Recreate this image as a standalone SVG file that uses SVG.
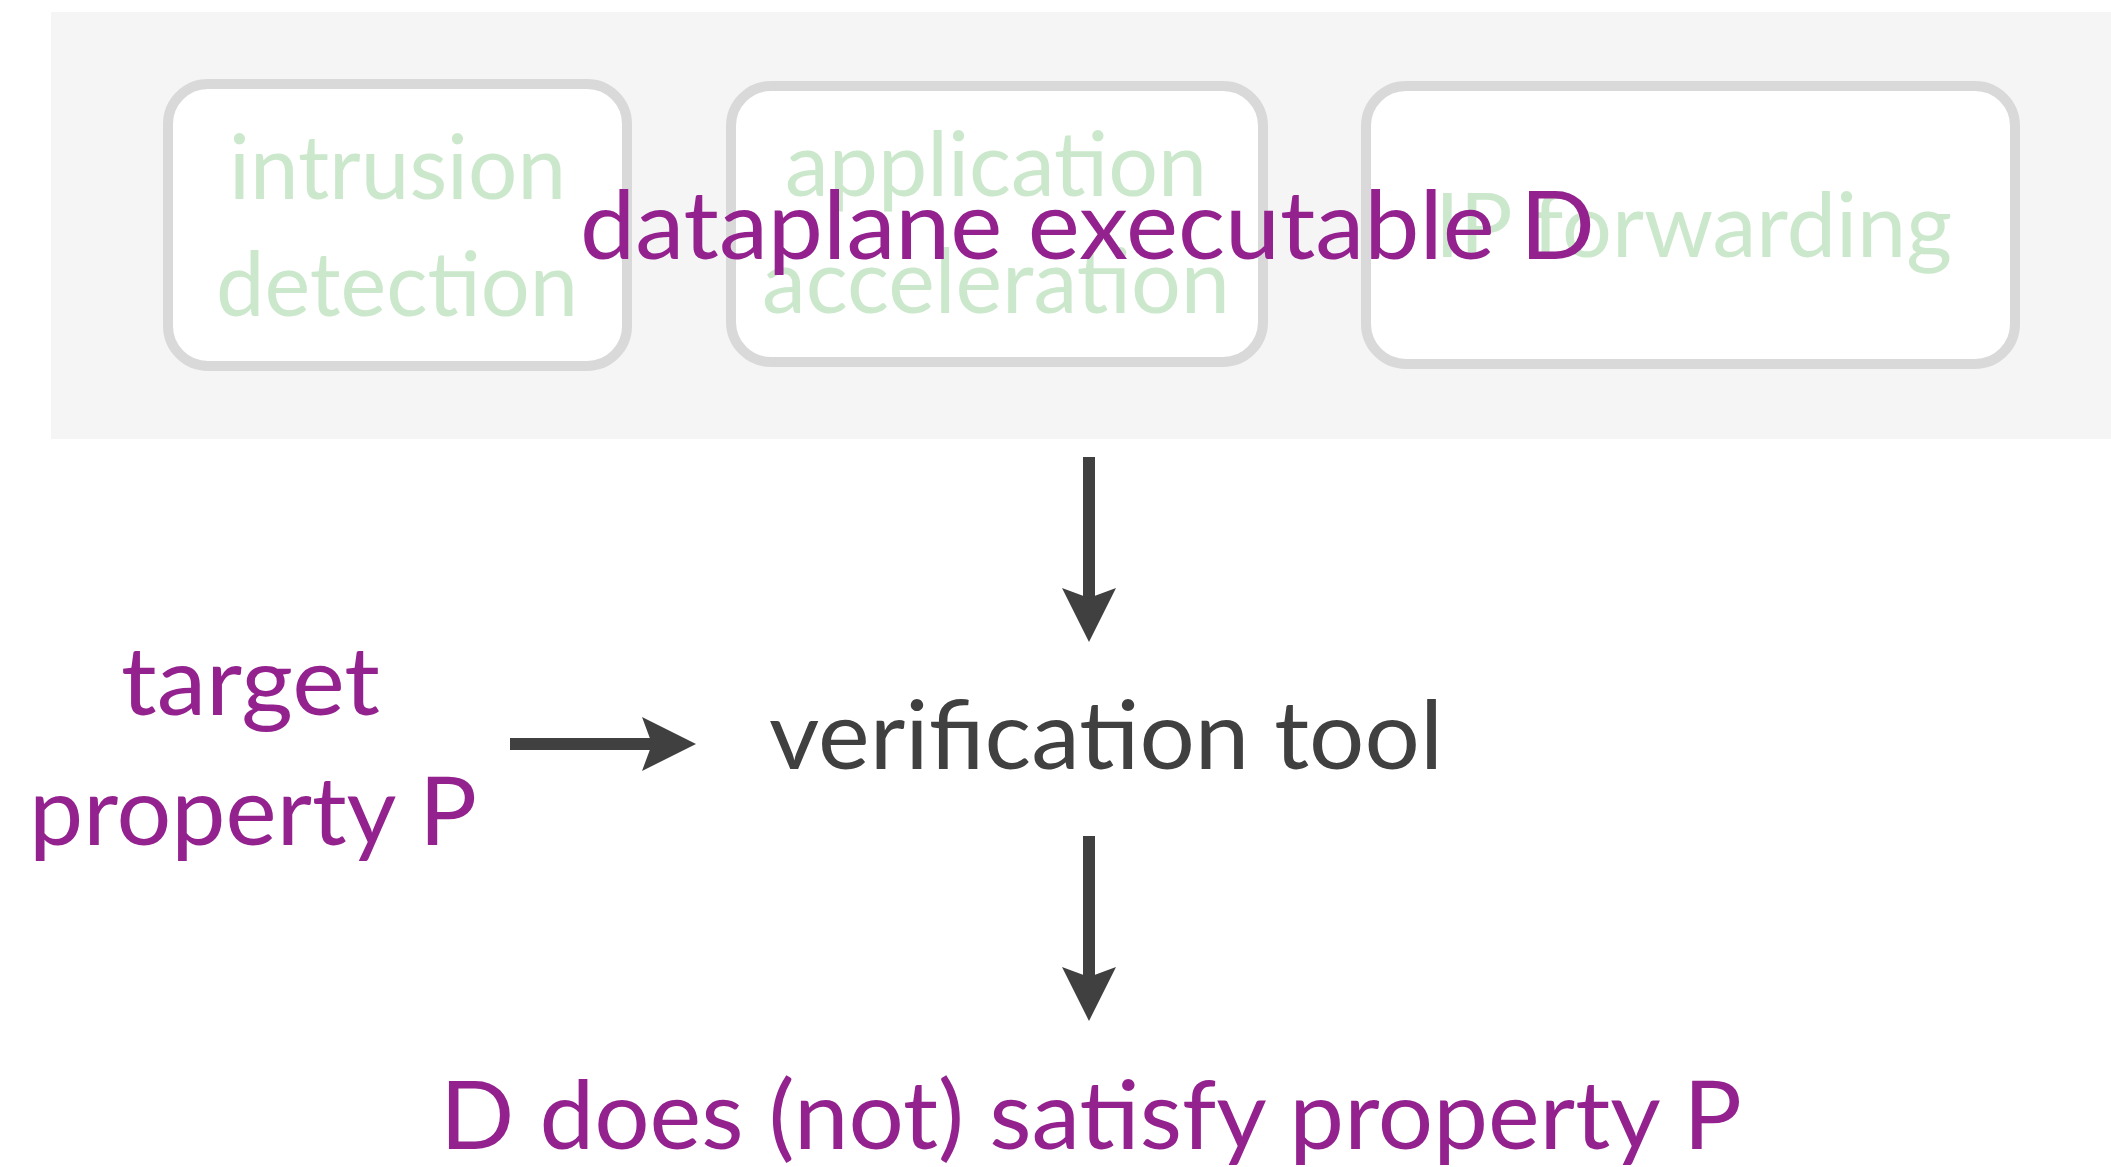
<svg xmlns="http://www.w3.org/2000/svg" width="2111" height="1167" viewBox="0 0 2111 1167">
  <style>
    .panel { fill: #f5f5f5; }
    .box { fill: #ffffff; stroke: #d9d9d9; stroke-width: 10; }
    .app { font-family: Lato, Carlito, "Liberation Sans", sans-serif; font-size: 90px; fill: #cce8cc; }
    .main { font-family: Lato, Carlito, "Liberation Sans", sans-serif; font-size: 95px; }
    .purple { fill: #93228f; }
    .dark { fill: #404040; }
    .link { stroke: #404040; stroke-width: 12; fill: none; marker-end: url(#ah); }
  </style>
  <defs>
    <marker id="ah" markerUnits="userSpaceOnUse" viewBox="-54 -27 54 54" refX="-40" refY="0" markerWidth="54" markerHeight="54" orient="auto">
      <path d="M0,0 L-54,-27 L-44,0 L-54,27 Z" fill="#404040"/>
    </marker>
  </defs>

  <rect class="panel" x="51" y="12" width="2060" height="427"/>

  <g id="intrusion-detection">
    <rect class="box" x="168" y="84" width="459" height="282" rx="40" ry="40"/>
    <text class="app" x="229" y="199" textLength="337" lengthAdjust="spacingAndGlyphs">intrusion</text>
    <text class="app" x="216" y="316" textLength="362" lengthAdjust="spacingAndGlyphs">detection</text>
  </g>

  <g id="application-acceleration">
    <rect class="box" x="731" y="86" width="532" height="276" rx="40" ry="40"/>
    <text class="app" x="785" y="196" textLength="422" lengthAdjust="spacingAndGlyphs">application</text>
    <text class="app" x="762" y="313" textLength="468" lengthAdjust="spacingAndGlyphs">acceleration</text>
  </g>

  <g id="ip-forwarding">
    <rect class="box" x="1366" y="86" width="649" height="278" rx="40" ry="40"/>
    <text class="app" x="1435" y="257" textLength="517" lengthAdjust="spacingAndGlyphs">IP forwarding</text>
  </g>

  <g id="dataplane-executable">
    <text class="main purple" x="580" y="259" textLength="1015" lengthAdjust="spacingAndGlyphs">dataplane executable D</text>
  </g>

  <g id="target-property">
    <text class="main purple" x="121" y="715" textLength="259" lengthAdjust="spacingAndGlyphs">target</text>
    <text class="main purple" x="29" y="845" textLength="448" lengthAdjust="spacingAndGlyphs">property P</text>
  </g>

  <g id="verification-tool">
    <text class="main dark" x="769" y="769" textLength="674" lengthAdjust="spacingAndGlyphs">verification tool</text>
  </g>

  <g id="result">
    <text class="main purple" x="440" y="1149" textLength="1302" lengthAdjust="spacingAndGlyphs">D does (not) satisfy property P</text>
  </g>

  <g id="connectors">
    <line class="link" x1="1089" y1="457" x2="1089" y2="602"/>
    <line class="link" x1="510" y1="744" x2="656" y2="744"/>
    <line class="link" x1="1089" y1="836" x2="1089" y2="981"/>
  </g>
</svg>
